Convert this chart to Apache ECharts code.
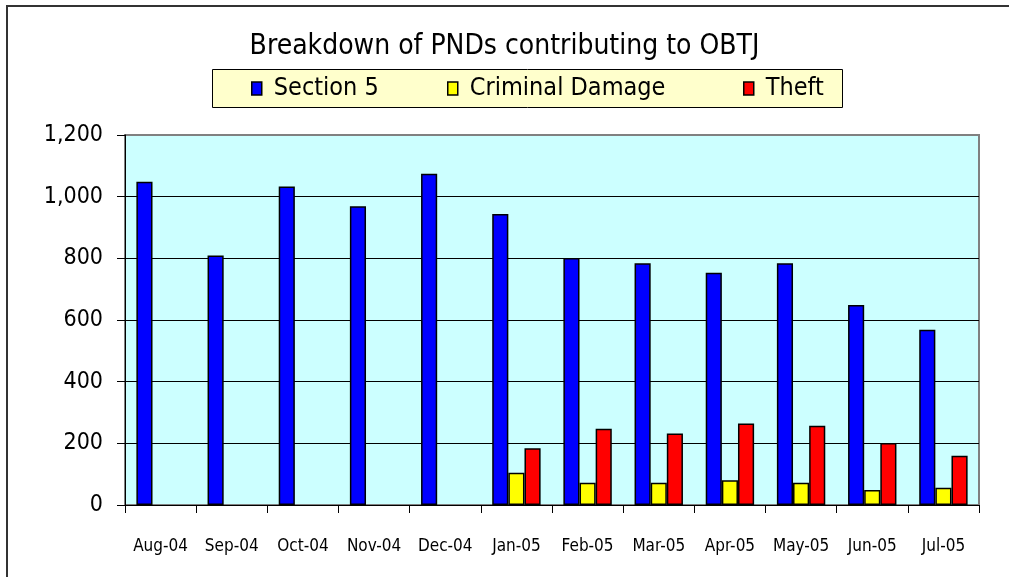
<!DOCTYPE html>
<html>
<head>
<meta charset="utf-8">
<script src="https://cdn.jsdelivr.net/npm/echarts@6/dist/echarts.min.js"></script>
<style>html,body{margin:0;padding:0;background:#fff;}#c{width:1009px;height:577px;}</style>
</head>
<body>
<div id="c"></div>
<script>
const categories = ['Aug-04','Sep-04','Oct-04','Nov-04','Dec-04','Jan-05','Feb-05','Mar-05','Apr-05','May-05','Jun-05','Jul-05'];
const section5 = [1048, 809, 1033, 969, 1074, 944, 801, 784, 753, 784, 649, 568];
const criminalDamage = [null, null, null, null, null, 105, 72, 72, 80, 72, 49, 56];
const theft = [null, null, null, null, null, 184, 247, 232, 264, 257, 201, 160];
const yTicks = [0, 200, 400, 600, 800, 1000, 1200];

const NARROW = "'Liberation Sans Narrow','Arial Narrow','DejaVu Sans Condensed',sans-serif";
const chart = echarts.init(document.getElementById('c'));
const barStyle = c => ({ color: c, borderColor: '#000', borderWidth: 1.5 });
const legendBase = (name, left) => ({
  data: [name], left: left, top: 76, padding: 0,
  icon: 'rect', itemWidth: 10, itemHeight: 13, itemGap: 0,
  itemStyle: { borderColor: '#000', borderWidth: 1.5 },
  textStyle: { fontFamily: NARROW, fontSize: 25, color: '#000', padding: [0, 0, 0, 7] },
  selectedMode: false
});
chart.setOption({
  animation: false,
  backgroundColor: '#fff',
  title: {
    text: 'Breakdown of PNDs contributing to OBTJ',
    left: 'center', top: 28,
    textStyle: { fontFamily: NARROW, fontSize: 28, fontWeight: 'normal', color: '#000' }
  },
  graphic: [
    { type: 'polyline', shape: { points: [[7, 577], [7, 6], [1009, 6]] }, style: { stroke: '#333', lineWidth: 2, fill: null } },
    { type: 'rect', shape: { x: 212.5, y: 69.5, width: 630, height: 38 }, style: { fill: '#FFFFCC', stroke: '#000', lineWidth: 1 }, z: -1 }
  ],
  legend: [
    legendBase('Section 5', 251),
    legendBase('Criminal Damage', 447),
    legendBase('Theft', 743)
  ],
  grid: {
    left: 125, right: 30, top: 135, bottom: 72,
    show: true, backgroundColor: '#CCFFFF', borderColor: '#808080', borderWidth: 2
  },
  xAxis: {
    type: 'category', data: categories,
    axisLine: { lineStyle: { color: '#000', width: 1 } },
    axisTick: { show: true, length: 8, alignWithLabel: false, lineStyle: { color: '#000' } },
    axisLabel: { fontFamily: NARROW, fontSize: 17, color: '#000', margin: 33, interval: 0 }
  },
  yAxis: {
    type: 'value', min: yTicks[0], max: yTicks[yTicks.length - 1], interval: 200,
    axisLine: { show: true, lineStyle: { color: '#000', width: 1 } },
    axisTick: { show: true, length: 8, lineStyle: { color: '#000' } },
    axisLabel: { fontFamily: NARROW, fontSize: 23, color: '#000', margin: 22,
      formatter: v => v.toLocaleString('en-US') },
    splitLine: { show: true, lineStyle: { color: ['#000','#000','#000','#000','#000','#000','#808080'], width: 1 } }
  },
  series: [
    { name: 'Section 5', type: 'bar', data: section5, itemStyle: barStyle('#0000FF'), barGap: '0%', barCategoryGap: '32%' },
    { name: 'Criminal Damage', type: 'bar', data: criminalDamage, itemStyle: barStyle('#FFFF00') },
    { name: 'Theft', type: 'bar', data: theft, itemStyle: barStyle('#FF0000') }
  ]
});
</script>
</body>
</html>
